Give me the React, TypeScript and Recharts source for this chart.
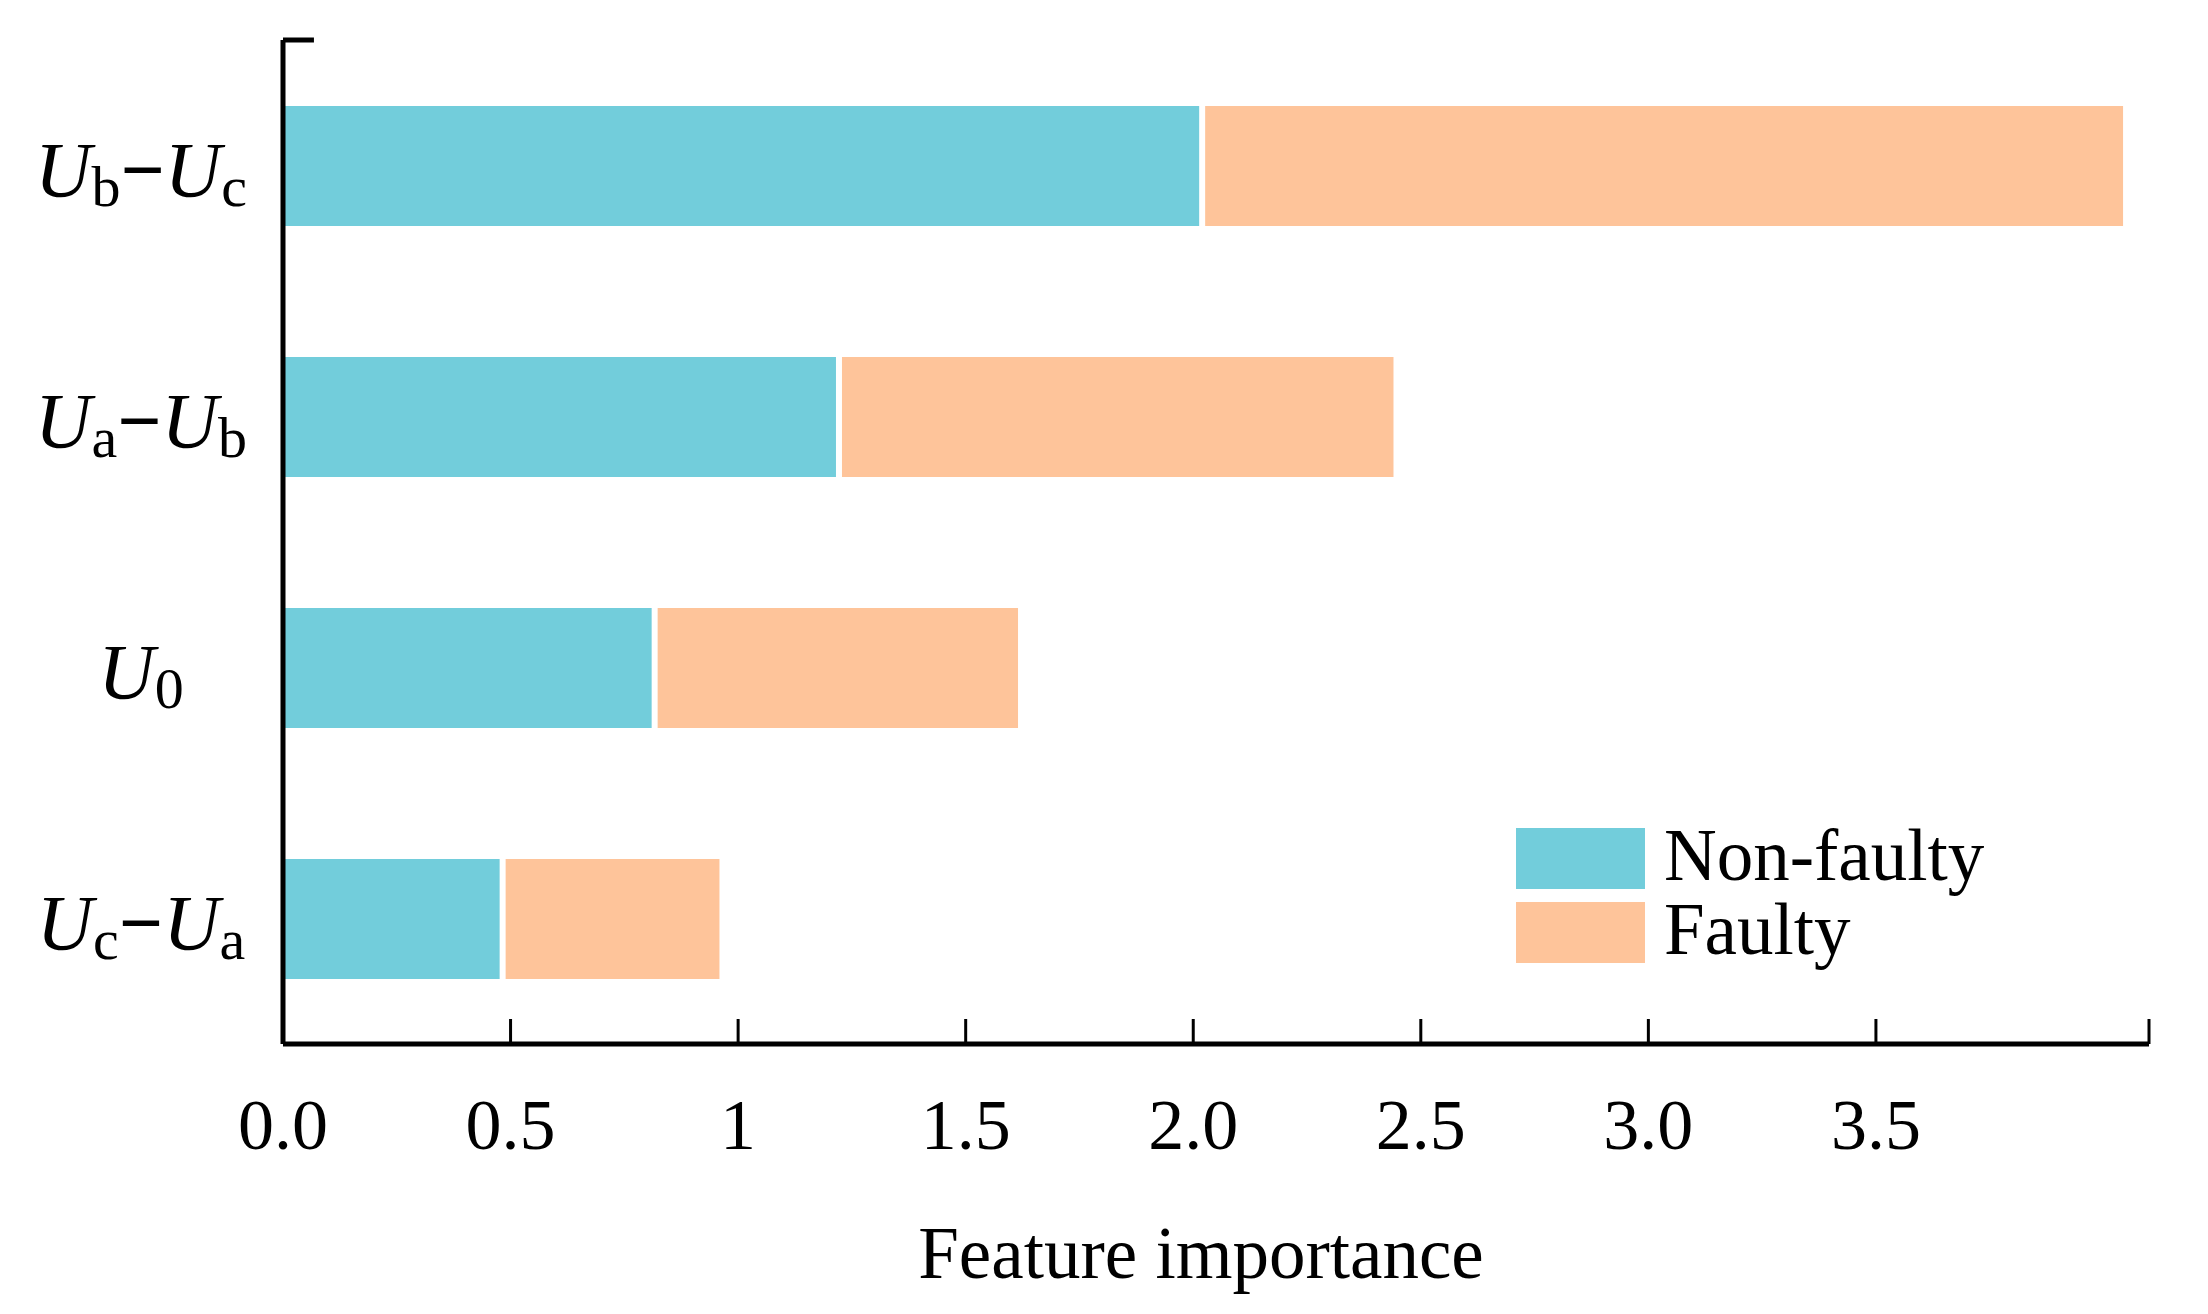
import React from "react";
import {
  BarChart,
  Bar,
  XAxis,
  YAxis,
  Legend,
  ReferenceLine,
} from "recharts";

const categories = ["Ub−Uc", "Ua−Ub", "U0", "Uc−Ua"];
const nonFaulty = [2.013, 1.215, 0.81, 0.476];
const faulty = [2.03, 1.225, 0.805, 0.483];
const xTicks = [0, 0.5, 1, 1.5, 2, 2.5, 3, 3.5, 4.1];
const xTickLabels = ["0.0", "0.5", "1", "1.5", "2.0", "2.5", "3.0", "3.5", ""];
const seriesNames = ["Non-faulty", "Faulty"];

const TEAL = "#72CDDB";
const PEACH = "#FEC49A";
const FONT = "'Liberation Serif', 'Times New Roman', serif";

const data = categories.map((name, i) => ({
  name,
  nonFaulty: nonFaulty[i],
  faulty: faulty[i],
}));

// "Ub−Uc" -> italic U with roman subscript, joined by a bold minus
const YTick = ({ x, y, payload }: any) => {
  const parts: string[] = String(payload.value).split("−");
  return (
    <text
      x={x - 142}
      y={y + 30}
      textAnchor="middle"
      fontFamily={FONT}
      fontSize={78}
      fill="#000"
    >
      {parts.map((p, i) => (
        <React.Fragment key={i}>
          {i > 0 && (
            <tspan dy={-10} fontWeight="bold">
              −
            </tspan>
          )}
          <tspan fontStyle="italic">{p[0]}</tspan>
          <tspan fontSize={58} dy={10}>
            {p.slice(1)}
          </tspan>
        </React.Fragment>
      ))}
    </text>
  );
};

// faulty segment starts a few px right of the teal one (white seam)
const GapBar = (props: any) => {
  const { x, y, width, height, fill } = props;
  return <rect x={x + 6} y={y} width={Math.max(width - 6, 0)} height={height} fill={fill} />;
};

const LegendBox = ({ payload }: any) => {
  const items = [...(payload || [])].sort(
    (a: any, b: any) => seriesNames.indexOf(a.value) - seriesNames.indexOf(b.value)
  );
  return (
    <svg width={600} height={180}>
      {items.map((entry: any, i: number) => (
        <g key={entry.value} transform={`translate(0, ${20 + i * 74})`}>
          <rect x={0} y={0} width={129} height={61} fill={entry.color} />
          <text x={148} y={52} fontFamily={FONT} fontSize={73} fill="#000">
            {entry.value}
          </text>
        </g>
      ))}
    </svg>
  );
};

const AxisTitle = ({ viewBox }: any) => (
  <text
    x={viewBox.x + viewBox.width / 2 - 15}
    y={viewBox.y + 234}
    textAnchor="middle"
    fontFamily={FONT}
    fontSize={73}
    fill="#000"
  >
    Feature importance
  </text>
);

export default function App() {
  return (
    <div style={{ position: "absolute", left: 0, top: 0, background: "#fff" }}>
      <BarChart
        width={2208}
        height={1314}
        data={data}
        layout="vertical"
        margin={{ top: 40, right: 59, left: 0, bottom: 0 }}
        barSize={120}
      >
        <XAxis
          type="number"
          domain={[0, 4.1]}
          ticks={xTicks}
          interval={0}
          allowDataOverflow
          height={270}
          tickSize={-25}
          tickMargin={79}
          tickFormatter={(v: number) => xTickLabels[xTicks.indexOf(v)] ?? ""}
          tick={{ fontSize: 72, fill: "#000", fontFamily: FONT }}
          axisLine={{ stroke: "#000", strokeWidth: 5 }}
          tickLine={{ stroke: "#000", strokeWidth: 3 }}
          label={AxisTitle}
        />
        <YAxis
          type="category"
          dataKey="name"
          width={283}
          tickSize={0}
          tickLine={false}
          tickMargin={0}
          axisLine={{ stroke: "#000", strokeWidth: 5 }}
          tick={<YTick />}
        />
        <ReferenceLine
          position="start"
          segment={[
            { x: 0, y: categories[0] },
            { x: 0.068, y: categories[0] },
          ]}
          stroke="#000"
          strokeWidth={5}
        />
        <Legend
          layout="vertical"
          align="center"
          verticalAlign="middle"
          content={<LegendBox />}
          wrapperStyle={{ position: "absolute", left: 1516, top: 808, width: 600 }}
        />
        <Bar
          dataKey="nonFaulty"
          name="Non-faulty"
          stackId="a"
          fill={TEAL}
          isAnimationActive={false}
        />
        <Bar
          dataKey="faulty"
          name="Faulty"
          stackId="a"
          fill={PEACH}
          shape={<GapBar />}
          isAnimationActive={false}
        />
      </BarChart>
    </div>
  );
}
